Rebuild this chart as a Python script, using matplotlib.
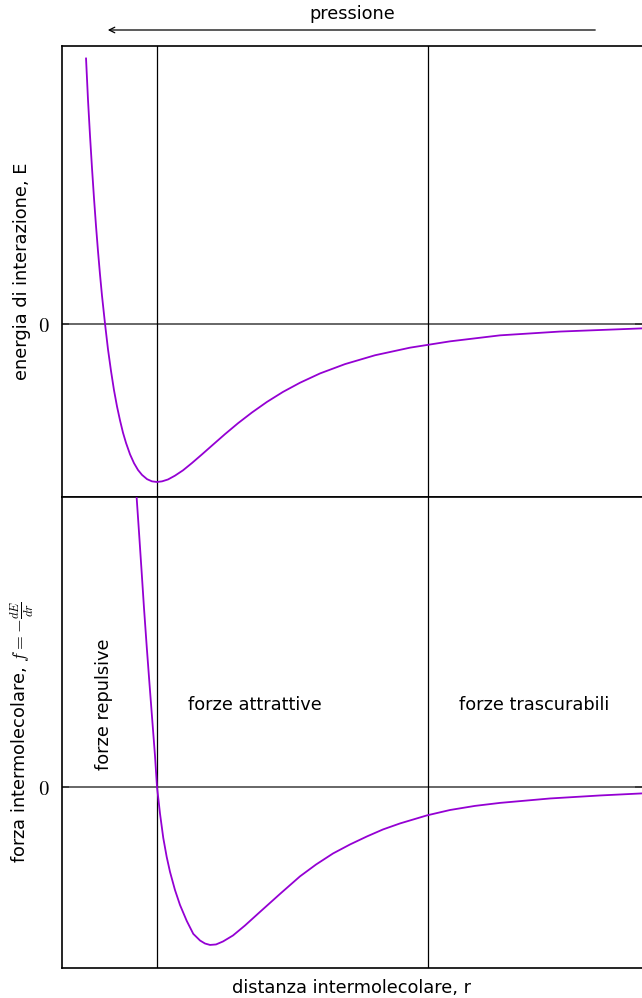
import matplotlib
matplotlib.use('Agg')
import matplotlib.pyplot as plt

plt.rcParams['font.family'] = 'DejaVu Sans'
plt.rcParams['mathtext.fontset'] = 'cm'

# intermolecular distance (units of the equilibrium distance) and interaction energy
r_energy = [0.253, 0.274, 0.295, 0.316, 0.337, 0.358, 0.379, 0.400, 0.421, 0.453,
            0.484, 0.516, 0.547, 0.579, 0.611, 0.642, 0.674, 0.716, 0.758, 0.800,
            0.842, 0.895, 0.947, 1.0, 1.053, 1.116, 1.189, 1.274, 1.368, 1.474,
            1.589, 1.716, 1.853, 2.0, 2.158, 2.326, 2.505, 2.716, 2.979, 3.295,
            3.663, 4.084, 4.611, 5.242, 6.105]
energy = [1.680, 1.414, 1.190, 0.984, 0.794, 0.620, 0.460, 0.313, 0.179, 0.0,
          -0.160, -0.298, -0.418, -0.522, -0.611, -0.688, -0.753, -0.825, -0.881, -0.924,
          -0.955, -0.982, -0.996, -1.0, -0.996, -0.984, -0.960, -0.926, -0.880, -0.825,
          -0.764, -0.697, -0.628, -0.560, -0.493, -0.430, -0.372, -0.313, -0.254, -0.198,
          -0.150, -0.110, -0.072, -0.048, -0.028]

# intermolecular force f = -dE/dr
r_force = [0.786, 0.811, 0.837, 0.863, 0.892, 0.921, 0.950, 0.979, 1.0, 1.032,
           1.066, 1.102, 1.137, 1.189, 1.242, 1.313, 1.382, 1.453, 1.505, 1.558,
           1.621, 1.695, 1.800, 1.926, 2.084, 2.295, 2.505, 2.674, 2.853, 3.032,
           3.211, 3.379, 3.558, 3.842, 4.084, 4.347, 4.611, 5.137, 5.663, 6.105]
force = [1.829, 1.608, 1.373, 1.133, 0.886, 0.652, 0.424, 0.196, 0.0, -0.171,
         -0.323, -0.443, -0.538, -0.652, -0.747, -0.848, -0.930, -0.972, -0.991, -1.0,
         -0.997, -0.978, -0.940, -0.877, -0.791, -0.677, -0.566, -0.491, -0.421, -0.364,
         -0.313, -0.269, -0.231, -0.180, -0.146, -0.120, -0.101, -0.073, -0.054, -0.041]

# region boundaries
r_eq = 1.0
r_far = 3.853
r_max = 6.105

curve_col = '#9400d3'
fs = 12.8

fig = plt.figure(figsize=(6.42, 9.98), dpi=100)
ax1 = fig.add_axes([62/642, 501/998, 580/642, 451/998])
ax2 = fig.add_axes([62/642, 30/998, 580/642, 471/998])

ax1.plot(r_energy, energy, color=curve_col, lw=1.3, zorder=3)
ax1.set_ylim(-1.095, 1.759)
ax2.plot(r_force, force, color=curve_col, lw=1.3, zorder=3)
ax2.set_ylim(-1.146, 1.835)

for ax in (ax1, ax2):
    ax.set_xlim(0, r_max)
    ax.axhline(0, color='#666666', lw=1.4, zorder=1)
    ax.axvline(r_eq, color='black', lw=0.9, zorder=2)
    ax.axvline(r_far, color='black', lw=0.9, zorder=2)
    ax.set_xticks([])
    ax.set_yticks([0])
    ax.set_yticklabels(['$0$'], fontsize=15)
    ax.tick_params(axis='y', direction='in', left=True, right=True, length=5,
                   width=1.2, color='#333333', pad=9)
    ax.spines['right'].set_visible(False)
    for s in ('left', 'top', 'bottom'):
        ax.spines[s].set_linewidth(1.2)

fig.text(22/642, 1 - 271/998, 'energia di interazione, E', rotation=90,
         ha='center', va='center', fontsize=fs)
fig.text(22/642, 1 - 732/998, r'forza intermolecolare, $f = -\frac{dE}{dr}$',
         rotation=90, ha='center', va='center', fontsize=fs)
fig.text(352/642, 1 - 988/998, 'distanza intermolecolare, r',
         ha='center', va='center', fontsize=fs)

# region labels in the force panel
ax2.text(0.442, 0.525, 'forze repulsive', rotation=90, ha='center', va='center', fontsize=fs)
ax2.text(2.03, 0.52, 'forze attrattive', ha='center', va='center', fontsize=fs)
ax2.text(4.97, 0.52, 'forze trascurabili', ha='center', va='center', fontsize=fs)

# pressure arrow above the plot
fig.text(352/642, 1 - 14/998, 'pressione', ha='center', va='center', fontsize=fs)
ax1.annotate('', xy=(0.453, 1 - 30/998), xycoords=('data', 'figure fraction'),
             xytext=(5.642, 1 - 30/998), textcoords=('data', 'figure fraction'),
             arrowprops=dict(arrowstyle='->', lw=0.9, color='black'))

fig.savefig('out.png', dpi=100)
